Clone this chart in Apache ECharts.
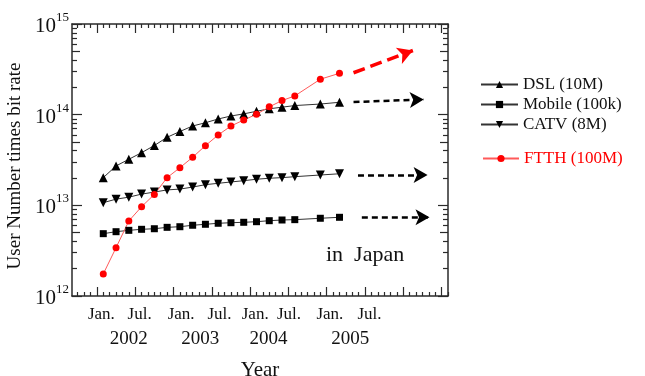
<!DOCTYPE html>
<html>
<head>
<meta charset="utf-8">
<script src="https://cdn.jsdelivr.net/npm/echarts@6/dist/echarts.min.js"></script>
<style>
html,body{margin:0;padding:0;background:#fff;}
#c{width:645px;height:376px;}
</style>
</head>
<body>
<div id="c"></div>
<script>
// months counted from Jan. 2002
var months = [1,3,5,7,9,11,13,15,17,19,21,23,25,27,29,31,35,38];
var dsl = [2.02e13,2.72e13,3.22e13,3.81e13,4.57e13,5.63e13,6.52e13,7.50e13,8.15e13,8.96e13,9.67e13,1.02e14,1.09e14,1.16e14,1.21e14,1.26e14,1.31e14,1.37e14];
var mobile = [4.87e12,5.12e12,5.30e12,5.44e12,5.52e12,5.72e12,5.81e12,6.03e12,6.18e12,6.34e12,6.43e12,6.50e12,6.60e12,6.77e12,6.89e12,6.95e12,7.20e12,7.38e12];
var catv = [1.07e13,1.17e13,1.23e13,1.33e13,1.40e13,1.48e13,1.51e13,1.59e13,1.69e13,1.75e13,1.81e13,1.87e13,1.94e13,1.99e13,2.02e13,2.07e13,2.16e13,2.23e13];
var ftth = [1.75e12,3.41e12,6.72e12,9.66e12,1.32e13,2.02e13,2.60e13,3.39e13,4.55e13,5.97e13,7.50e13,8.73e13,1.01e14,1.22e14,1.43e14,1.61e14,2.46e14,2.86e14];

// projection arrows: [startMonth, startValue, endMonth, endValue]
var arrowDSL = [40.2, 1.38e14, 51.2, 1.47e14];
var arrowMobile = [41.5, 7.38e12, 52.1, 7.38e12];
var arrowCATV = [40.9, 2.16e13, 51.8, 2.16e13];
var arrowFTTH = [40.2, 2.90e14, 49.5, 5.1e14];

var seriesNames = ['DSL (10M)', 'Mobile (100k)', 'CATV (8M)', 'FTTH (100M)'];

// x axis ticks / labels
var xMajorTicks = [0,6,12,18,24,30,36,42,48,54];
var xMinorTicks = [];
for (var m = -3; m <= 55; m++) { if (m % 6 !== 0) xMinorTicks.push(m); }
var monthLabelPos = [0.7, 6.7, 13.2, 19.2, 24.8, 30.1, 36.5, 42.7];
var monthLabels = ['Jan.', 'Jul.', 'Jan.', 'Jul.', 'Jan.', 'Jul.', 'Jan.', 'Jul.'];
var yearLabelPos = [5.0, 16.2, 26.9, 39.7];
var yearLabels = ['2002', '2003', '2004', '2005'];

// y axis ticks (top decade nudged inside the extent to avoid float round-off)
var yMajorTicks = [1e12, 1e13, 1e14, 0.99999e15];
var yHalfTicks = [5e12, 5e13, 5e14];
var yMinorTicks = [];
[1e12, 1e13, 1e14].forEach(function (d) {
  [2,3,4,6,7,8,9].forEach(function (k) { yMinorTicks.push(k * d); });
});

function zip(xs, ys) { return xs.map(function (x, i) { return [x, ys[i]]; }); }

var FONT = '"Liberation Serif", "Times New Roman", serif';
var AXC = '#2a2a2a';
var XMIN = -3.9, XMAX = 55, YMIN = 1e12, YMAX = 1e15;

function xAx(pos, ticks, len, showLine, extra) {
  var a = {
    type: 'value', position: pos, min: XMIN, max: XMAX,
    splitLine: {show: false},
    axisLine: {show: showLine, onZero: false, lineStyle: {color: AXC, width: 1.5}},
    axisTick: {show: !!ticks, inside: true, length: len, customValues: ticks || [], lineStyle: {color: AXC, width: 1.2}},
    axisLabel: {show: false}
  };
  if (extra) for (var k in extra) a[k] = extra[k];
  return a;
}
function yAx(pos, ticks, len, showLine, extra) {
  var a = {
    type: 'log', logBase: 10, position: pos, min: YMIN, max: YMAX,
    splitLine: {show: false},
    axisLine: {show: showLine, onZero: false, lineStyle: {color: AXC, width: 1.5}},
    axisTick: {show: true, inside: true, length: len, customValues: ticks, lineStyle: {color: AXC, width: 1.2}},
    axisLabel: {show: false}
  };
  if (extra) for (var k in extra) a[k] = extra[k];
  return a;
}

function arrowLine(a, color, dash, width, size) {
  return {
    silent: true, symbol: ['none', 'arrow'], symbolSize: size,
    label: {show: false},
    lineStyle: {color: color, type: dash, width: width},
    emphasis: {disabled: true},
    data: [[{coord: [a[0], a[1]]}, {coord: [a[2], a[3]]}]]
  };
}

var chart = echarts.init(document.getElementById('c'), null, {renderer: 'canvas'});
chart.setOption({
  animation: false,
  backgroundColor: '#fff',
  textStyle: {fontFamily: FONT},
  grid: {left: 72, top: 24, right: 197, bottom: 80, containLabel: false, outerBoundsMode: 'none'},
  legend: [{
    orient: 'vertical', left: 475, top: 71, itemGap: 3, itemWidth: 37, itemHeight: 9,
    textStyle: {fontFamily: FONT, fontSize: 17, color: '#111'},
    data: seriesNames.slice(0, 3)
  }, {
    orient: 'vertical', left: 477, top: 145, itemWidth: 36, itemHeight: 9,
    textStyle: {fontFamily: FONT, fontSize: 17, color: '#ff0000'},
    data: [seriesNames[3]]
  }],
  xAxis: [
    xAx('bottom', xMajorTicks, 9, true),
    xAx('bottom', xMinorTicks, 4, false),
    xAx('top', xMajorTicks, 9, true),
    xAx('top', xMinorTicks, 4, false),
    {
      type: 'value', position: 'bottom', min: XMIN, max: XMAX,
      splitLine: {show: false}, axisLine: {show: false, onZero: false}, axisTick: {show: false},
      axisLabel: {show: true, customValues: monthLabelPos, margin: 10,
        fontFamily: FONT, fontSize: 17, color: '#111',
        formatter: function (v, i) { return monthLabels[monthLabelPos.indexOf(v)]; }}
    },
    {
      type: 'value', position: 'bottom', min: XMIN, max: XMAX,
      splitLine: {show: false}, axisLine: {show: false, onZero: false}, axisTick: {show: false},
      name: 'Year', nameLocation: 'middle', nameGap: 64,
      nameTextStyle: {fontFamily: FONT, fontSize: 21, color: '#111'},
      axisLabel: {show: true, customValues: yearLabelPos, margin: 34,
        fontFamily: FONT, fontSize: 19, color: '#111',
        formatter: function (v) { return yearLabels[yearLabelPos.indexOf(v)]; }}
    }
  ],
  yAxis: [
    yAx('left', yMajorTicks, 10, true, {
      name: 'User Number times bit rate', nameLocation: 'middle', nameGap: 44,
      nameTextStyle: {fontFamily: FONT, fontSize: 19, color: '#111', padding: [0, 12, 0, 0]},
      axisLabel: {show: true, customValues: yMajorTicks, margin: 3,
        formatter: function (v) {
          return '{b|10}{s|' + Math.round(Math.log10(v)) + '}';
        },
        rich: {
          b: {fontFamily: FONT, fontSize: 21, color: '#111', verticalAlign: 'bottom', lineHeight: 26},
          s: {fontFamily: FONT, fontSize: 13, color: '#111', verticalAlign: 'top', lineHeight: 14}
        }
      }
    }),
    yAx('left', yHalfTicks, 8, false),
    yAx('left', yMinorTicks, 5, false),
    yAx('right', yMajorTicks, 10, true),
    yAx('right', yHalfTicks, 8, false),
    yAx('right', yMinorTicks, 5, false)
  ],
  graphic: [{
    type: 'text', left: 326, top: 244, silent: true,
    style: {text: 'in  Japan', font: '22px ' + FONT, fill: '#111'}
  }],
  series: [
    {
      name: seriesNames[0], type: 'line', data: zip(months, dsl),
      symbol: 'triangle', symbolSize: 9,
      itemStyle: {color: '#000'}, lineStyle: {color: '#333', width: 1},
      markLine: arrowLine(arrowDSL, '#000', [6, 4], 2.5, [12, 14])
    },
    {
      name: seriesNames[1], type: 'line', data: zip(months, mobile),
      symbol: 'rect', symbolSize: 7,
      itemStyle: {color: '#000'}, lineStyle: {color: '#333', width: 1},
      markLine: arrowLine(arrowMobile, '#000', [6, 4], 2.5, [12, 14])
    },
    {
      name: seriesNames[2], type: 'line', data: zip(months, catv),
      symbol: 'triangle', symbolRotate: 180, symbolSize: 9,
      itemStyle: {color: '#000'}, lineStyle: {color: '#333', width: 1},
      markLine: arrowLine(arrowCATV, '#000', [6, 4], 2.5, [12, 14])
    },
    {
      name: seriesNames[3], type: 'line', data: zip(months, ftth),
      symbol: 'circle', symbolSize: 7,
      itemStyle: {color: '#ff0000'}, lineStyle: {color: '#ff5a5a', width: 1},
      markLine: arrowLine(arrowFTTH, '#ff0000', [12, 6], 3.5, [13, 15])
    }
  ]
});
</script>
</body>
</html>
